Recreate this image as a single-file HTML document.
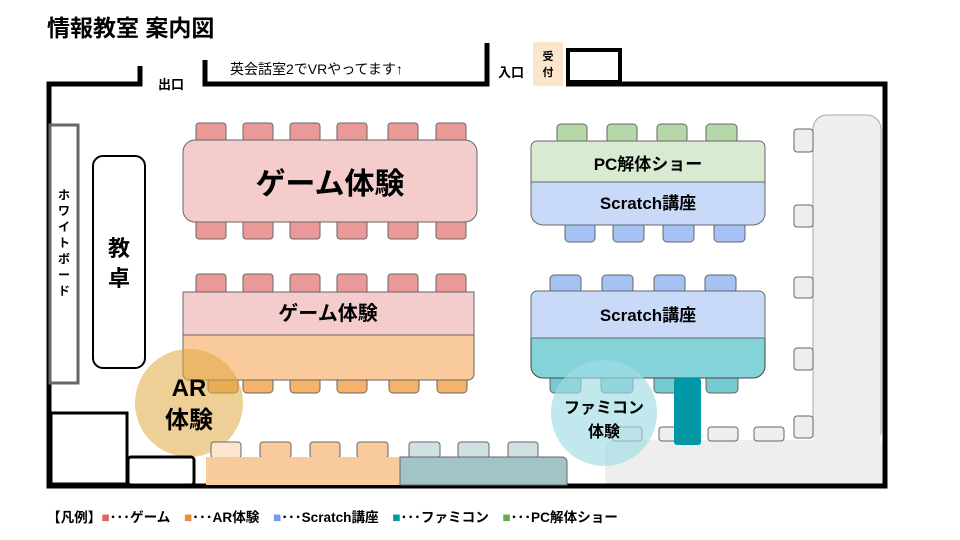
<!DOCTYPE html>
<html><head><meta charset="utf-8"><style>body{margin:0;background:#fff}svg{display:block}text{font-family:"Liberation Sans","Noto Sans CJK JP",sans-serif;font-weight:bold;fill:#000}</style></head><body>
<svg width="960" height="540" viewBox="0 0 960 540">
<text x="47" y="36" font-size="23">情報教室 案内図</text>
<!-- right gray area -->
<rect x="813" y="115" width="68" height="330" rx="14" fill="#eee" stroke="#aaa"/>
<rect x="605" y="440" width="278" height="46" rx="8" fill="#eee"/>
<rect x="813.5" y="130" width="67" height="330" fill="#eee"/>
<g fill="#eee" stroke="#666" stroke-width="1">
<rect x="794" y="129" width="19" height="23" rx="3"/><rect x="794" y="205" width="19" height="22" rx="3"/><rect x="794" y="277" width="19" height="21" rx="3"/><rect x="794" y="348" width="19" height="22" rx="3"/><rect x="794" y="416" width="19" height="22" rx="3"/>
<rect x="659" y="427" width="30" height="14" rx="3"/><rect x="708" y="427" width="30" height="14" rx="3"/><rect x="754" y="427" width="30" height="14" rx="3"/><rect x="612" y="427" width="30" height="14" rx="3"/>
</g>
<!-- walls -->
<g stroke="#000" stroke-width="5" fill="none">
<polyline points="140,66 140,84 49,84 49,486 885,486 885,84 566,84"/>
<polyline points="205,60 205,84 487,84 487,43"/>
</g>
<text x="158" y="89" font-size="13">出口</text>
<text x="230" y="74" font-size="14" style="font-weight:normal">英会話室2でVRやってます↑</text>
<text x="498" y="77" font-size="13">入口</text>
<rect x="533" y="42" width="30" height="44" fill="#fce5cd"/>
<text x="548" y="60" font-size="11" text-anchor="middle">受</text><text x="548" y="76" font-size="11" text-anchor="middle">付</text>
<rect x="568" y="50" width="52" height="32" fill="#fff" stroke="#000" stroke-width="4"/>
<!-- whiteboard -->
<rect x="50" y="125" width="28" height="258" fill="#fff" stroke="#666" stroke-width="3"/>
<g font-size="12" text-anchor="middle">
<text x="64" y="199">ホ</text><text x="64" y="215">ワ</text><text x="64" y="231">イ</text><text x="64" y="247">ト</text><text x="64" y="263">ボ</text><text x="64" y="279">ー</text><text x="64" y="295">ド</text>
</g>
<rect x="93" y="156" width="52" height="212" rx="10" fill="#fff" stroke="#000" stroke-width="2"/>
<text x="119" y="256" font-size="22" text-anchor="middle">教</text><text x="119" y="286" font-size="22" text-anchor="middle">卓</text>
<!-- game table 1 -->
<g fill="#ea9999" stroke="#666">
<rect x="196" y="123" width="30" height="19" rx="3"/><rect x="243" y="123" width="30" height="19" rx="3"/><rect x="290" y="123" width="30" height="19" rx="3"/><rect x="337" y="123" width="30" height="19" rx="3"/><rect x="388" y="123" width="30" height="19" rx="3"/><rect x="436" y="123" width="30" height="19" rx="3"/>
<rect x="196" y="220" width="30" height="19" rx="3"/><rect x="243" y="220" width="30" height="19" rx="3"/><rect x="290" y="220" width="30" height="19" rx="3"/><rect x="337" y="220" width="30" height="19" rx="3"/><rect x="388" y="220" width="30" height="19" rx="3"/><rect x="436" y="220" width="30" height="19" rx="3"/>
<rect x="196" y="274" width="30" height="20" rx="3"/><rect x="243" y="274" width="30" height="20" rx="3"/><rect x="290" y="274" width="30" height="20" rx="3"/><rect x="337" y="274" width="30" height="20" rx="3"/><rect x="388" y="274" width="30" height="20" rx="3"/><rect x="436" y="274" width="30" height="20" rx="3"/>
</g>
<rect x="183" y="140" width="294" height="82" rx="12" fill="#f4cccc" stroke="#666"/>
<text x="330" y="194" font-size="30" text-anchor="middle">ゲーム体験</text>
<g fill="#f6b26b" stroke="#666">
<rect x="208" y="376" width="30" height="17" rx="4"/><rect x="243" y="376" width="30" height="17" rx="4"/><rect x="290" y="376" width="30" height="17" rx="4"/><rect x="337" y="376" width="30" height="17" rx="4"/><rect x="389" y="376" width="30" height="17" rx="4"/><rect x="437" y="376" width="30" height="17" rx="4"/>
</g>
<path d="M183 292 H474 V374 a6 6 0 0 1 -6 6 H189 a6 6 0 0 1 -6 -6 Z" fill="#f9cb9c" stroke="#666"/>
<rect x="183" y="292" width="291" height="43" fill="#f4cccc" stroke="#666"/>
<text x="328" y="320" font-size="20" text-anchor="middle">ゲーム体験</text>
<circle cx="189" cy="403" r="54" fill="#e0a840" opacity="0.55"/>
<text x="189" y="396" font-size="24" text-anchor="middle">AR</text><text x="189" y="428" font-size="24" text-anchor="middle">体験</text>
<!-- bottom left boxes -->
<rect x="51" y="413" width="76" height="71" fill="#fff" stroke="#000" stroke-width="3"/>
<rect x="128" y="457" width="66" height="28" rx="3" fill="#fff" stroke="#000" stroke-width="3"/>
<!-- bottom table -->
<rect x="211" y="442" width="30" height="16" rx="3" fill="#fce5cd" stroke="#666"/>
<g fill="#f9cb9c" stroke="#666"><rect x="260" y="442" width="31" height="16" rx="3"/><rect x="310" y="442" width="30" height="16" rx="3"/><rect x="357" y="442" width="31" height="16" rx="3"/></g>
<g fill="#d0e0e3" stroke="#666"><rect x="409" y="442" width="31" height="16" rx="3"/><rect x="458" y="442" width="31" height="16" rx="3"/><rect x="508" y="442" width="30" height="16" rx="3"/></g>
<rect x="206" y="457" width="194" height="28" fill="#f9cb9c"/>
<path d="M400 457 H562 a5 5 0 0 1 5 5 V485 H400 Z" fill="#a2c4c9" stroke="#666"/>
<!-- PC table -->
<g fill="#b6d7a8" stroke="#666"><rect x="557" y="124" width="30" height="19" rx="4"/><rect x="607" y="124" width="30" height="19" rx="4"/><rect x="657" y="124" width="30" height="19" rx="4"/><rect x="706" y="124" width="31" height="19" rx="4"/></g>
<g fill="#a4c2f4" stroke="#666"><rect x="565" y="223" width="30" height="19" rx="4"/><rect x="613" y="223" width="31" height="19" rx="4"/><rect x="663" y="223" width="31" height="19" rx="4"/><rect x="714" y="223" width="31" height="19" rx="4"/>
<rect x="550" y="275" width="31" height="18" rx="4"/><rect x="602" y="275" width="31" height="18" rx="4"/><rect x="654" y="275" width="31" height="18" rx="4"/><rect x="705" y="275" width="31" height="18" rx="4"/></g>
<path d="M531 182 H765 V213 a12 12 0 0 1 -12 12 H543 a12 12 0 0 1 -12 -12 Z" fill="#c9daf8" stroke="#666"/>
<path d="M537 141 H759 a6 6 0 0 1 6 6 V182 H531 V147 a6 6 0 0 1 6 -6 Z" fill="#d9ead3" stroke="#666"/>
<text x="648" y="170" font-size="17" text-anchor="middle">PC解体ショー</text>
<text x="648" y="209" font-size="17" text-anchor="middle">Scratch講座</text>
<!-- Scratch table 2 -->
<g fill="#76cbd3" stroke="#666"><rect x="550" y="376" width="31" height="17" rx="4"/><rect x="601" y="376" width="32" height="17" rx="4"/><rect x="654" y="376" width="32" height="17" rx="4"/><rect x="706" y="376" width="32" height="17" rx="4"/></g>
<path d="M531 338 H765 V366 a12 12 0 0 1 -12 12 H543 a12 12 0 0 1 -12 -12 Z" fill="#83d3d9" stroke="#444"/>
<path d="M537 291 H759 a6 6 0 0 1 6 6 V338 H531 V297 a6 6 0 0 1 6 -6 Z" fill="#c9daf8" stroke="#666"/>
<text x="648" y="321" font-size="17" text-anchor="middle">Scratch講座</text>
<rect x="674" y="378" width="27" height="67" rx="3" fill="#0097a7"/>
<circle cx="604" cy="413" r="53" fill="#9fdbe3" opacity="0.65"/>
<text x="604" y="413" font-size="16" text-anchor="middle">ファミコン</text><text x="604" y="437" font-size="16" text-anchor="middle">体験</text>
<!-- legend -->
<text x="47" y="522" font-size="13.6">【凡例】<tspan fill="#e06666">■</tspan>･･･ゲーム　<tspan fill="#e69138">■</tspan>･･･AR体験　<tspan fill="#6d9eeb">■</tspan>･･･Scratch講座　<tspan fill="#0097a7">■</tspan>･･･ファミコン　<tspan fill="#6aa84f">■</tspan>･･･PC解体ショー</text>
</svg>
</body></html>
